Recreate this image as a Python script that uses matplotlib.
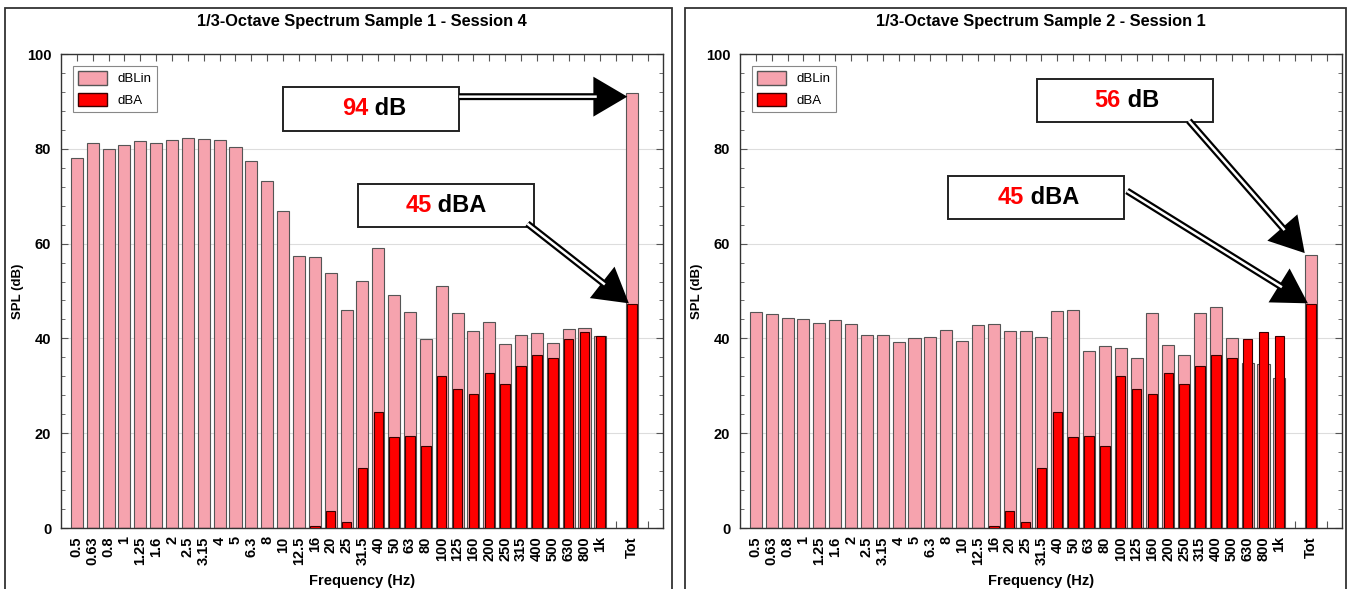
import matplotlib.pyplot as plt
from matplotlib.patches import Patch, Rectangle
from matplotlib.ticker import AutoMinorLocator, MultipleLocator

plt.rcParams['font.family'] = ['Liberation Sans', 'DejaVu Sans']

freq_labels = ['0.5', '0.63', '0.8', '1', '1.25', '1.6', '2', '2.5', '3.15', '4',
               '5', '6.3', '8', '10', '12.5', '16', '20', '25', '31.5', '40',
               '50', '63', '80', '100', '125', '160', '200', '250', '315', '400',
               '500', '630', '800', '1k', 'Tot']

s1_lin = [78.0, 81.3, 80.0, 80.8, 81.7, 81.3, 81.9, 82.3, 82.1, 81.8,
          80.4, 77.4, 73.3, 66.9, 57.4, 57.2, 53.9, 45.9, 52.2, 59.1,
          49.2, 45.6, 39.8, 51.1, 45.4, 41.6, 43.5, 38.8, 40.8, 41.2,
          39.1, 41.9, 42.2, 40.6, 91.8]
s1_a = [0, 0, 0, 0, 0, 0, 0, 0, 0, 0,
        0, 0, 0, 0, 0, 0.5, 3.6, 1.3, 12.7, 24.5,
        19.1, 19.5, 17.4, 32.0, 29.3, 28.2, 32.7, 30.3, 34.2, 36.4,
        35.9, 39.9, 41.3, 40.5, 47.2]

s2_lin = [45.6, 45.2, 44.2, 44.1, 43.2, 43.8, 43.0, 40.8, 40.8, 39.3,
          40.1, 40.4, 41.7, 39.4, 42.8, 43.1, 41.6, 41.6, 40.3, 45.8,
          46.0, 37.4, 38.4, 37.9, 35.8, 45.4, 38.6, 36.4, 45.3, 46.6,
          40.0, 34.9, 34.7, 31.7, 57.6]
s2_a = s1_a

# value, unit, box extents (x0, x1, y0, y1), split x, arrow start, arrow tip
s1_notes = [
    ('94', ' dB', (13.0, 24.1, 83.8, 93.0), 18.35, (24.1, 91.0), (34.7, 91.0)),
    ('45', ' dBA', (17.7, 28.8, 63.5, 72.6), 22.35, (28.4, 64.2), (34.8, 47.4)),
]
s2_notes = [
    ('56', ' dB', (17.7, 28.8, 85.7, 94.7), 23.0, (27.3, 85.9), (34.6, 58.0)),
    ('45', ' dBA', (12.1, 23.2, 65.2, 74.3), 16.9, (23.4, 71.1), (34.8, 47.4)),
]

pink = '#F6A3AE'
red = '#FF0000'


def draw_panel(ax, title, lin, dba, notes):
    pos = list(range(len(freq_labels) - 1)) + [len(freq_labels)]

    ax.bar(pos, lin, width=0.76, color=pink, edgecolor='#555555', linewidth=0.8, zorder=2)
    ax.bar(pos, dba, width=0.6, color=red, edgecolor='#3a0000', linewidth=0.8, zorder=3)

    ax.set_xlim(-1, 36.95)
    ax.set_ylim(0, 100)
    ax.yaxis.set_major_locator(MultipleLocator(20))
    ax.yaxis.set_minor_locator(AutoMinorLocator(5))
    ax.grid(axis='y', color='#dddddd', linewidth=0.8, zorder=0)
    ax.set_axisbelow(True)

    ticks = list(range(0, 37))
    labels = []
    for t in ticks:
        if t in pos:
            labels.append(freq_labels[pos.index(t)])
        else:
            labels.append('')
    ax.set_xticks(ticks)
    ax.set_xticklabels(labels, rotation=90, fontsize=10.5, fontweight='bold')
    for lab in ax.get_yticklabels():
        lab.set_fontweight('bold')
    ax.tick_params(axis='both', which='both', direction='in', top=True, right=True,
                   color='#555555')
    ax.tick_params(axis='x', length=5, pad=6)
    ax.tick_params(axis='y', which='major', length=5, labelsize=10.5, pad=7)
    ax.tick_params(axis='y', which='minor', length=3)
    for sp in ax.spines.values():
        sp.set_color('#333333')
        sp.set_linewidth(1.0)

    ax.set_title(title, fontsize=11.8, fontweight='bold', pad=20)
    ax.set_xlabel('Frequency (Hz)', fontsize=10.5, fontweight='bold')
    ax.xaxis.set_label_coords(0.5, -0.097)
    ax.set_ylabel('SPL (dB)', fontsize=9.5, fontweight='bold')
    ax.yaxis.set_label_coords(-0.062, 0.5)

    handles = [Patch(facecolor=pink, edgecolor='#555555', label='dBLin'),
               Patch(facecolor=red, edgecolor='#3a0000', label='dBA')]
    leg = ax.legend(handles=handles, loc='upper left', fontsize=9.5, fancybox=False,
                    edgecolor='#888888', borderaxespad=0.9, handlelength=2.2,
                    handleheight=1.2, labelspacing=0.55, framealpha=1)
    leg.get_frame().set_linewidth(0.8)

    for num, unit, (x0, x1, y0, y1), xs, start, tip in notes:
        ax.add_patch(Rectangle((x0, y0), x1 - x0, y1 - y0, facecolor='white',
                               edgecolor='#222222', linewidth=1.4, zorder=5))
        yc = (y0 + y1) / 2
        ax.text(xs, yc, num, color='red', fontsize=17, fontweight='bold',
                ha='right', va='center', zorder=6)
        ax.text(xs, yc, unit, color='black', fontsize=17, fontweight='bold',
                ha='left', va='center', zorder=6)
        ax.annotate('', xy=tip, xytext=start,
                    arrowprops=dict(arrowstyle='-|>,head_length=0.85,head_width=0.5',
                                    mutation_scale=20, lw=5, color='black',
                                    capstyle='butt', joinstyle='miter',
                                    shrinkA=0, shrinkB=0), zorder=6)
        ax.annotate('', xy=tip, xytext=start,
                    arrowprops=dict(arrowstyle='-', lw=1.8, color='white',
                                    capstyle='butt', shrinkA=0, shrinkB=22), zorder=7)


fig = plt.figure(figsize=(13.49, 5.89), dpi=100)
ax1 = fig.add_axes([61 / 1349, 61 / 589, 602 / 1349, 474 / 589])
ax2 = fig.add_axes([740 / 1349, 61 / 589, 602 / 1349, 474 / 589])

draw_panel(ax1, '1/3-Octave Spectrum Sample 1 - Session 4', s1_lin, s1_a, s1_notes)
draw_panel(ax2, '1/3-Octave Spectrum Sample 2 - Session 1', s2_lin, s2_a, s2_notes)

fig.patches.append(Rectangle((5 / 1349, -0.05), 667 / 1349, 1.05 - 8 / 589,
                             transform=fig.transFigure, fill=False,
                             edgecolor='#333333', linewidth=1.3))
fig.patches.append(Rectangle((685 / 1349, -0.05), 661 / 1349, 1.05 - 8 / 589,
                             transform=fig.transFigure, fill=False,
                             edgecolor='#333333', linewidth=1.3))

fig.savefig('out.png', dpi=100)
